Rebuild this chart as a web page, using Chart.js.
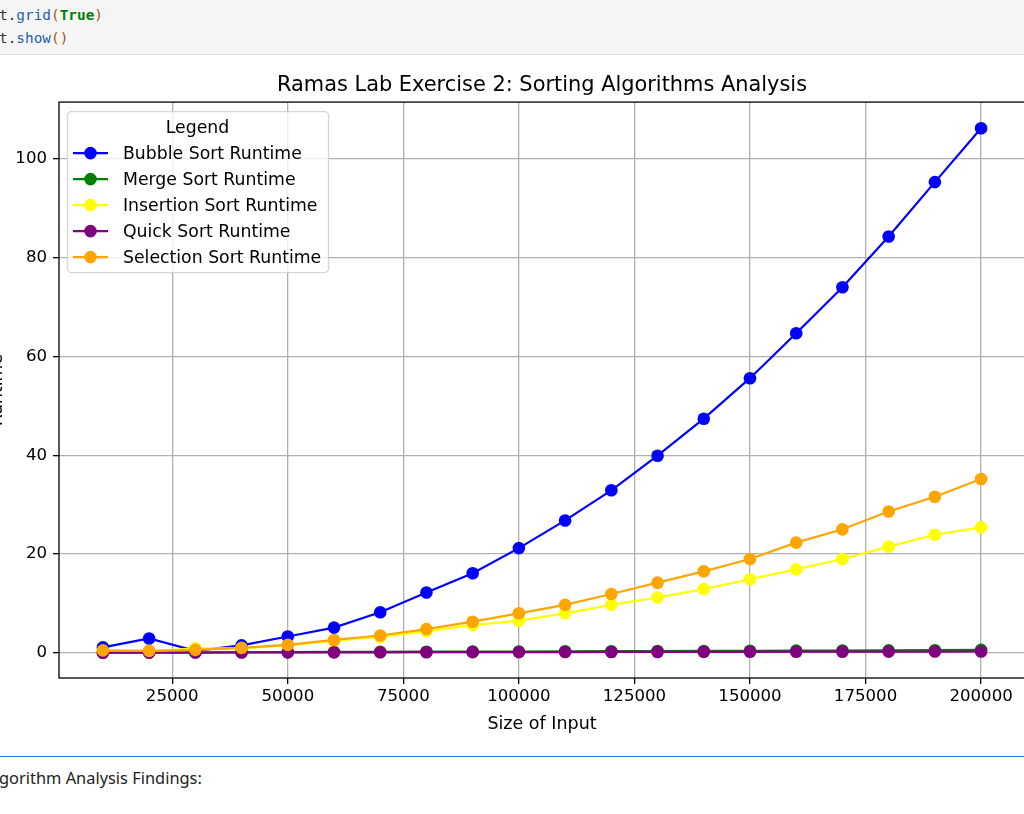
<!DOCTYPE html>
<html>
<head>
<meta charset="utf-8">
<script src="https://cdn.jsdelivr.net/npm/chart.js@4.4.1/dist/chart.umd.min.js"></script>
<style>
  html, body { margin: 0; padding: 0; background: #fff; width: 1024px; height: 814px; overflow: hidden; position: relative; }
  #code { position: absolute; left: 0; top: 0; width: 1024px; height: 54px; background: #f5f5f5; border-bottom: 1px solid #e0e0e0;
          font-family: "DejaVu Sans Mono", monospace; font-size: 14.4px; color: #333; }
  #code .ln { position: absolute; left: -1px; line-height: 23px; white-space: pre; }
  #code .f { color: #1f62a8; }
  #code .b { color: #a0561e; }
  #code .k { color: #008000; font-weight: bold; }
  #plot { position: absolute; left: -40px; top: 56px; }
  #sep { position: absolute; left: 0; top: 756px; width: 1024px; height: 1px; background: #2a7fd4; }
  #md { position: absolute; left: -1px; top: 766px; font-family: "Noto Sans", sans-serif; font-size: 16.4px; color: #222; white-space: pre; }
</style>
</head>
<body>
<div id="code">
  <div class="ln" style="top:4px">t.<span class="f">grid</span><span class="b">(</span><span class="k">True</span><span class="b">)</span></div>
  <div class="ln" style="top:27px">t.<span class="f">show</span><span class="b">()</span></div>
</div>
<canvas id="plot" width="1080" height="700"></canvas>
<div id="sep"></div>
<div id="md">gorithm Analysis Findings:</div>
<script>
// input sizes and measured runtimes (seconds)
const sizes = [10000, 20000, 30000, 40000, 50000, 60000, 70000, 80000, 90000, 100000,
               110000, 120000, 130000, 140000, 150000, 160000, 170000, 180000, 190000, 200000];
const bubble = [1.1, 2.9, 0.4, 1.5, 3.3, 5.1, 8.2, 12.2, 16.1, 21.2, 26.8, 32.9, 39.9, 47.4, 55.6, 64.7, 74.0, 84.3, 95.3, 106.2];
const merge = [0.03, 0.06, 0.08, 0.11, 0.14, 0.17, 0.19, 0.22, 0.25, 0.27, 0.3, 0.33, 0.36, 0.38, 0.41, 0.44, 0.47, 0.5, 0.53, 0.6];
const insertion = [0.3, 0.3, 0.9, 0.9, 1.5, 2.4, 3.2, 4.4, 5.6, 6.5, 8.0, 9.7, 11.2, 12.9, 14.9, 16.9, 19.0, 21.5, 23.9, 25.4];
const quick = [0.02, 0.04, 0.05, 0.07, 0.08, 0.09, 0.1, 0.12, 0.13, 0.14, 0.15, 0.17, 0.18, 0.19, 0.2, 0.22, 0.23, 0.24, 0.25, 0.27];
const selection = [0.5, 0.4, 0.6, 1.0, 1.6, 2.6, 3.5, 4.8, 6.3, 8.0, 9.7, 11.9, 14.2, 16.5, 19.0, 22.3, 25.0, 28.6, 31.6, 35.2];

const xTicks = [25000, 50000, 75000, 100000, 125000, 150000, 175000, 200000];
const yTicks = [0, 20, 40, 60, 80, 100];

const font = 'DejaVu Sans';
const gridColor = '#b0b0b0';

function series(label, values, color, order) {
  return {
    label: label,
    data: sizes.map((x, i) => ({ x: x, y: values[i] })),
    borderColor: color,
    backgroundColor: color,
    borderWidth: 2.2,
    pointRadius: 6.3,
    pointHoverRadius: 6.3,
    pointBorderWidth: 0,
    tension: 0,
    order: order,
  };
}

// axes frame (all four spines, like matplotlib)
const frame = {
  id: 'frame',
  afterDatasetsDraw(chart) {
    const { ctx, chartArea: a } = chart;
    ctx.save();
    ctx.strokeStyle = '#000';
    ctx.lineWidth = 1.3;
    ctx.strokeRect(a.left, a.top, a.right - a.left, a.bottom - a.top);
    ctx.restore();
  },
};

// legend box in the upper-left corner of the axes
const legendBox = {
  id: 'legendBox',
  afterDatasetsDraw(chart) {
    const { ctx, chartArea: a } = chart;
    const x0 = a.left + 8, y0 = a.top + 9, w = 261, h = 161;
    ctx.save();
    ctx.beginPath();
    ctx.roundRect(x0 + 0.5, y0 + 0.5, w, h, 4);
    ctx.fillStyle = 'rgba(255,255,255,0.8)';
    ctx.fill();
    ctx.strokeStyle = 'rgba(204,204,204,0.8)';
    ctx.lineWidth = 1.3;
    ctx.stroke();
    ctx.font = '17.3px "' + font + '"';
    ctx.fillStyle = '#000';
    ctx.textBaseline = 'middle';
    ctx.textAlign = 'center';
    ctx.fillText('Legend', x0 + w / 2, y0 + 17);
    ctx.textAlign = 'left';
    chart.data.datasets.forEach((ds, i) => {
      const y = y0 + 42 + i * 26;
      ctx.strokeStyle = ds.borderColor;
      ctx.lineWidth = 2.2;
      ctx.beginPath();
      ctx.moveTo(x0 + 6, y);
      ctx.lineTo(x0 + 41, y);
      ctx.stroke();
      ctx.fillStyle = ds.backgroundColor;
      ctx.beginPath();
      ctx.arc(x0 + 23.5, y, 6.3, 0, Math.PI * 2);
      ctx.fill();
      ctx.fillStyle = '#000';
      ctx.fillText(ds.label, x0 + 56, y + 1);
    });
    ctx.restore();
  },
};

Chart.defaults.font.family = font;
Chart.defaults.color = '#000';

new Chart(document.getElementById('plot'), {
  type: 'line',
  data: {
    datasets: [
      series('Bubble Sort Runtime', bubble, '#0000ff', 5),
      series('Merge Sort Runtime', merge, '#008000', 4),
      series('Insertion Sort Runtime', insertion, '#ffff00', 3),
      series('Quick Sort Runtime', quick, '#800080', 2),
      series('Selection Sort Runtime', selection, '#ffa500', 1),
    ],
  },
  options: {
    responsive: false,
    animation: false,
    layout: { padding: { top: 0, left: 0, right: 15, bottom: 0 } },
    plugins: {
      legend: { display: false },
      tooltip: { enabled: false },
      title: {
        display: true,
        text: 'Ramas Lab Exercise 2: Sorting Algorithms Analysis',
        fullSize: false,
        font: { size: 20.9, weight: 'normal' },
        padding: { top: 17, bottom: 4 },
        color: '#000',
      },
    },
    scales: {
      x: {
        type: 'linear',
        min: 500,
        max: 209500,
        afterBuildTicks: s => { s.ticks = xTicks.map(v => ({ value: v })); },
        afterFit: s => { s.height = 78; },
        ticks: { font: { size: 16.6 }, padding: 3, maxRotation: 0, autoSkip: false, callback: v => String(v) },
        grid: { color: gridColor, lineWidth: 1.3, tickColor: '#000', tickLength: 6 },
        border: { display: false },
        title: { display: true, text: 'Size of Input', font: { size: 17.5 }, padding: { top: 0, bottom: 21 } },
      },
      y: {
        min: -5.1,
        max: 111.5,
        afterBuildTicks: s => { s.ticks = yTicks.map(v => ({ value: v })); },
        afterFit: s => { s.width = 99; },
        ticks: { font: { size: 16.6 }, padding: 6, callback: v => String(v) },
        grid: { color: gridColor, lineWidth: 1.3, tickColor: '#000', tickLength: 6 },
        border: { display: false },
        title: { display: true, text: 'Runtime', font: { size: 17.3 }, padding: { top: 27, bottom: 0 } },
      },
    },
  },
  plugins: [frame, legendBox],
});
</script>
</body>
</html>
